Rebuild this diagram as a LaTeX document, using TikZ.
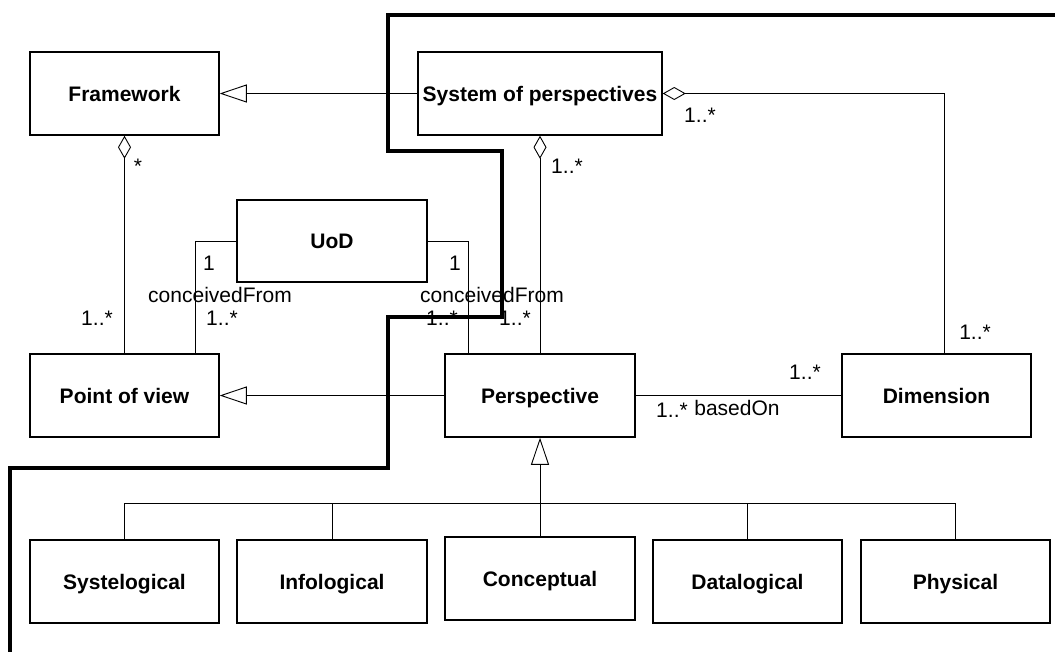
\documentclass[tikz,border=0pt]{standalone}
\usepackage{fontspec}
\setmainfont{Liberation Sans}
\usetikzlibrary{arrows.meta}
\begin{document}
\begin{tikzpicture}[x=1pt,y=-1pt,
  umlclass/.style={draw, line width=1.5pt, minimum height=83pt, inner sep=0pt,
    font=\fontsize{21}{25}\selectfont\bfseries, text height=15pt, text depth=0pt},
  wide/.style={minimum width=189pt},
  assoc/.style={line width=0.9pt},
  mult/.style={font=\fontsize{21}{25}\selectfont, inner sep=0pt, anchor=center},
  gen/.style={assoc, -{Triangle[open, length=27pt, width=18pt]}},
  agg/.style={assoc, {Diamond[open, length=23pt, width=13pt]}-},
  boundary/.style={line width=3.2pt, line join=miter}]
\useasboundingbox (0,0) rectangle (1055,651);

% classes
\node[umlclass, wide] (fw) at (124.5,93.5) {Framework};
\node[umlclass, minimum width=244pt] (sop) at (540,93.5) {System of perspectives};
\node[umlclass, minimum width=190pt, minimum height=82pt] (uod) at (332,241) {UoD};
\node[umlclass, wide] (pov) at (124.5,395.5) {Point of view};
\node[umlclass, minimum width=190pt] (persp) at (540,395.5) {Perspective};
\node[umlclass, wide] (dim) at (936.5,395.5) {Dimension};

\node[umlclass, wide] (sys) at (124.5,581.5) {Systelogical};
\node[umlclass, minimum width=190pt] (info) at (332,581.5) {Infological};
\node[umlclass, minimum width=190pt] (concept) at (540,578.5) {Conceptual};
\node[umlclass, wide] (data) at (747.5,581.5) {Datalogical};
\node[umlclass, wide] (phys) at (955.5,581.5) {Physical};

% generalisations
\draw[gen] (sop) -- (fw);
\draw[gen] (persp) -- (pov);
\coordinate (bus) at (540,503);
\draw[gen] (concept.north) -- (persp.south);
\draw[assoc] (sys.north) -- (sys.north |- bus) -- (phys.north |- bus) -- (phys.north);
\draw[assoc] (info.north) -- (info.north |- bus);
\draw[assoc] (data.north) -- (data.north |- bus);

% aggregations
\draw[agg] (fw.south) -- (pov.north);
\draw[agg] (sop.south) -- (persp.north);
\draw[agg] (sop.east) -| ([xshift=7.5pt]dim.north);

% associations
\draw[assoc] (uod.west) -| ([xshift=-24pt]pov.north east);
\draw[assoc] (uod.east) -| ([xshift=24pt]persp.north west);
\draw[assoc] (persp.east) -- (dim.west);

% multiplicities and role names
\node[mult] (m1) at (138,166) {*};
\node[mult] (m2) at (97,318) {1..*};
\node[mult] (m3) at (209,263) {1};
\node[mult] (m4) at (220,295) {conceivedFrom};
\node[mult] (m5) at (222,318) {1..*};
\node[mult] (m6) at (455,263) {1};
\node[mult] (m7) at (492,295) {conceivedFrom};
\node[mult] (m8) at (442,318) {1..*};
\node[mult] (m9) at (515,318) {1..*};
\node[mult] (m10) at (567,166) {1..*};
\node[mult] (m11) at (700,115) {1..*};
\node[mult] (m12) at (975,332) {1..*};
\node[mult] (m13) at (805,372) {1..*};
\node[mult] (m14) at (672,410) {1..*};
\node[mult] (m15) at (737,408) {basedOn};

% heavy boundary line
\draw[boundary] (1060,15) -- (388,15) -- (388,151) -- (502,151) -- (502,317)
  -- (388,317) -- (388,468) -- (10,468) -- (10,660);
\end{tikzpicture}
\end{document}
